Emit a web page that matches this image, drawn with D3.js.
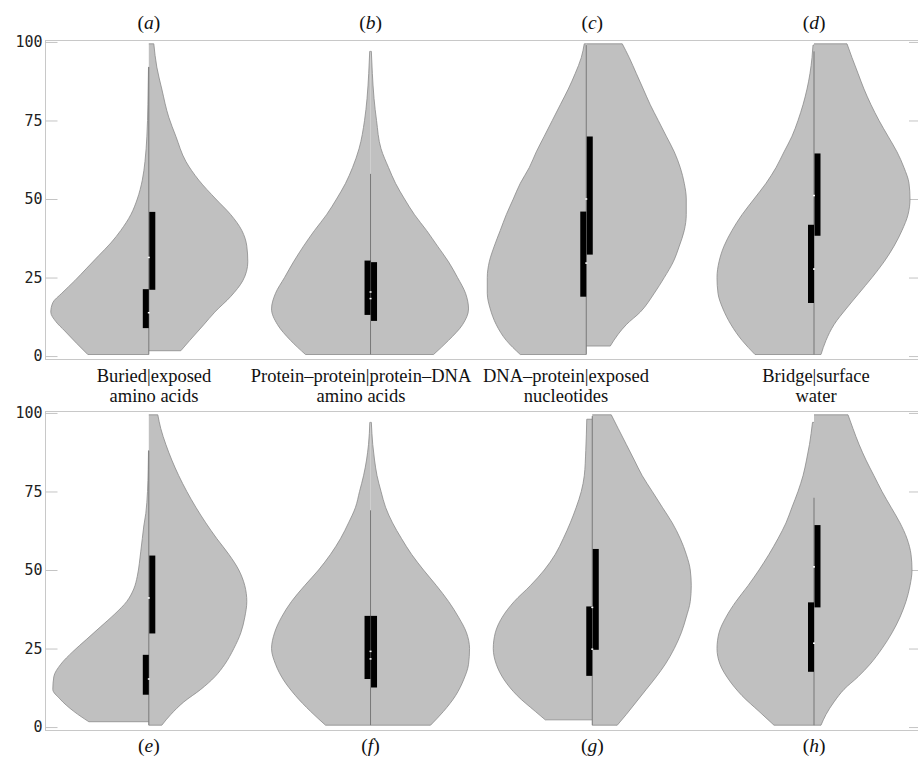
<!DOCTYPE html>
<html>
<head>
<meta charset="utf-8">
<script src="https://cdn.jsdelivr.net/npm/d3@7"></script>
<style>
  body { margin: 0; background: #fff; }
  svg { display: block; }
  .tick text { font-family: 'DejaVu Sans Mono', monospace; font-size: 15px; fill: #222; }
  .tick line { stroke: #c4c4c4; }
  .lbl { font-family: 'Liberation Serif', 'DejaVu Serif', serif; font-size: 18.5px; fill: #111; }
  .letter { font-family: 'Liberation Serif', 'DejaVu Serif', serif; font-size: 19.5px; fill: #111; }
</style>
</head>
<body>
<div id="chart"></div>
<script>
// panel letters, top row then bottom row
const panelNames = ['a', 'b', 'c', 'd', 'e', 'f', 'g', 'h'];
const categoryLine1 = ['Buried|exposed', 'Protein–protein|protein–DNA', 'DNA–protein|exposed', 'Bridge|surface'];
const categoryLine2 = ['amino acids', 'amino acids', 'nucleotides', 'water'];
const yTicks = [0, 25, 50, 75, 100];

// violin halves: [value, relative density]
const aLeft = [[0.5, 61], [4, 72], [8, 84], [11, 93], [14, 98], [17, 96], [20, 87], [24, 74], [28, 62], [32, 50], [36, 38], [40, 28], [45, 18], [50, 11.5], [56, 6.5], [62, 3.8], [70, 1.9], [80, 0.9], [92, 0.3]];
const aRight = [[1.7, 32], [5, 41], [10, 55], [14, 66], [19, 82], [24, 94], [30, 99], [35, 98], [40, 93], [45, 82], [50, 67], [56, 50], [62, 37], [70, 27], [76, 20], [85, 13], [92, 8], [99.4, 5]];
const bLeft = [[0.5, 65], [5, 80], [10, 93], [15, 99], [20, 95], [25, 86], [30, 77], [35, 67], [40, 56], [45, 44], [50, 34], [55, 25], [60, 18], [66, 11.5], [75, 6], [82, 3.5], [90, 1.8], [97, 0.8]];
const bRight = [[0.5, 63], [5, 78], [10, 92], [15, 98], [20, 95], [25, 87], [30, 78], [35, 67], [40, 56], [45, 44], [50, 34], [55, 25], [60, 18], [66, 10.5], [75, 6], [82, 3.5], [90, 1.8], [97, 0.8]];
const cLeft = [[0.5, 66], [5, 80], [10, 90], [15, 96], [20, 99], [25, 99], [30, 97], [35, 92], [40, 86], [45, 80], [50, 73], [55, 66], [60, 57], [65, 50], [70, 42], [75, 34], [80, 26], [85, 18], [90, 11], [95, 5], [99.4, 2]];
const cRight = [[3.2, 24], [7, 32], [10, 40], [14, 54], [20, 68], [25, 78], [30, 87], [35, 93], [40, 98], [45, 100], [50, 100], [55, 98], [60, 94], [65, 88], [70, 80], [75, 72], [80, 64], [85, 57], [90, 50], [95, 43], [99.4, 36]];
const dLeft = [[0.5, 59], [5, 72], [10, 83], [15, 91], [20, 96], [25, 97], [30, 95], [35, 90], [40, 82], [45, 72], [50, 60], [55, 48], [60, 38], [65, 30], [70, 22], [75, 16], [80, 11], [85, 7], [90, 4], [95, 2], [99, 1]];
const dRight = [[0.5, 7], [5, 12], [10, 20], [15, 32], [20, 45], [25, 58], [30, 70], [35, 80], [40, 88], [45, 94], [50, 96], [55, 95], [60, 90], [65, 83], [70, 74], [75, 65], [80, 57], [85, 50], [90, 44], [95, 38], [99.4, 33]];
const eLeft = [[1.7, 60], [5, 75], [9, 89], [12, 96], [16, 95], [20, 88], [24, 76], [28, 62], [32, 48], [36, 34], [40, 22], [44, 15], [48, 11.5], [52, 9.5], [56, 8], [60, 6.5], [64, 5], [68, 3], [75, 1.3], [82, 0.6], [88, 0.3]];
const eRight = [[0.6, 13], [4, 22], [8, 35], [12, 52], [16, 66], [20, 76], [25, 85], [30, 92], [35, 96], [40, 98], [45, 96], [50, 90], [55, 80], [60, 68], [65, 57], [70, 47], [75, 38], [80, 30], [85, 23], [90, 17], [95, 12], [99.4, 9]];
const fLeft = [[0.6, 45], [5, 60], [10, 75], [15, 87], [20, 95], [25, 99], [30, 96], [35, 89], [40, 79], [45, 66], [50, 52], [55, 40], [60, 30], [65, 22], [70, 15], [75, 11], [80, 7], [85, 4], [90, 2], [97, 0.7]];
const fRight = [[0.6, 60], [5, 73], [10, 85], [15, 93], [20, 98], [25, 99], [30, 96], [35, 88], [40, 78], [45, 66], [50, 53], [55, 41], [60, 31], [65, 22], [70, 15], [75, 10.5], [80, 6.5], [85, 4], [90, 2.2], [97, 0.8]];
const gLeft = [[2.3, 47], [5, 57], [10, 75], [15, 88], [20, 96], [25, 99], [30, 97], [35, 90], [40, 78], [45, 62], [50, 48], [55, 37], [60, 29], [65, 22], [70, 16], [75, 11], [80, 8], [88, 6.5], [98, 5.5]];
const gRight = [[0.6, 25], [4, 34], [8, 44], [12, 54], [16, 64], [20, 73], [25, 82], [30, 89], [35, 94], [40, 98], [45, 99], [50, 98], [55, 94], [60, 88], [65, 80], [70, 70], [75, 60], [80, 50], [85, 42], [90, 34], [95, 26], [99.4, 19]];
const hLeft = [[0.6, 40], [5, 55], [10, 72], [15, 85], [20, 94], [25, 97], [30, 95], [35, 88], [40, 78], [45, 66], [50, 55], [55, 45], [60, 36], [65, 28], [70, 22], [75, 16], [80, 11], [85, 7.5], [90, 4.5], [97, 1.5]];
const hRight = [[0.6, 7], [4, 12], [8, 20], [12, 30], [16, 44], [20, 56], [25, 68], [30, 78], [35, 86], [40, 92], [45, 96], [50, 98], [55, 97], [60, 93], [65, 86], [70, 77], [75, 68], [80, 60], [85, 52], [90, 45], [95, 39], [99.4, 34]];

// box statistics per panel (a..h)
const leftQ1 = [8.9, 13.1, 18.9, 16.9, 10.3, 15.3, 16.3, 17.6];
const leftMedian = [13.8, 20.4, 29.6, 27.7, 15.3, 24.1, 24.8, 26.7];
const leftQ3 = [21.3, 30.4, 46, 41.8, 23, 35.4, 38.4, 39.7];
const rightQ1 = [21.1, 11.2, 32.3, 38.3, 29.8, 12.6, 24.6, 38.1];
const rightMedian = [31.4, 18.3, 50, 51.1, 41.1, 21.7, 38.1, 51];
const rightQ3 = [45.9, 29.9, 69.9, 64.5, 54.6, 35.4, 56.7, 64.3];
const whiskerLow = [0.5, 0.5, 0.5, 0.5, 0.6, 0.6, 0.6, 0.6];
const whiskerHigh = [92, 58, 99, 97, 88, 69, 99, 73];

const leftHalves = [aLeft, bLeft, cLeft, dLeft, eLeft, fLeft, gLeft, hLeft];
const rightHalves = [aRight, bRight, cRight, dRight, eRight, fRight, gRight, hRight];

const width = 918, height = 759;
const rows = [{ top: 41, bottom: 360 }, { top: 412, bottom: 731 }];
const frameLeft = 45.5, frameRight = 921;
const nudge = [0, 0, -6, 0, 0, 0, 0, 0];
const labelX = [154, 361, 566, 816];

const svg = d3.select('#chart').append('svg')
	.attr('width', width)
	.attr('height', height);

const x = d3.scalePoint().domain([0, 1, 2, 3]).range([148.8, 814]);
const w = d3.scaleLinear().domain([0, 100]).range([0, 100]);
const ys = rows.map(r => d3.scaleLinear().domain([-1.25, 100.3]).range([r.bottom, r.top]));

// frames and axes
rows.forEach((r, i) => {
	svg.append('rect')
		.attr('x', frameLeft)
		.attr('y', r.top - 0.5)
		.attr('width', frameRight - frameLeft)
		.attr('height', r.bottom - r.top)
		.attr('fill', 'none')
		.attr('stroke', '#c8c8c8');
	const la = svg.append('g')
		.attr('transform', 'translate(' + frameLeft + ',0)')
		.call(d3.axisLeft(ys[i]).tickValues(yTicks).tickSizeInner(-12).tickSizeOuter(0).tickPadding(3));
	la.select('.domain').remove();
	const ra = svg.append('g')
		.attr('transform', 'translate(' + frameRight + ',0)')
		.call(d3.axisRight(ys[i]).tickValues(yTicks).tickSizeInner(-12).tickSizeOuter(0).tickFormat(''));
	ra.select('.domain').remove();
});

function drawHalf(g, pts, cx, y, side) {
	const area = d3.area()
		.curve(d3.curveMonotoneY)
		.y(d => y(d[0]))
		.x0(cx)
		.x1(d => cx + side * w(d[1]));
	g.append('path')
		.datum(pts)
		.attr('d', area)
		.attr('fill', '#c0c0c0');
	const edge = d3.line()
		.curve(d3.curveMonotoneY)
		.x(d => cx + side * w(d[1]))
		.y(d => y(d[0]));
	g.append('path')
		.datum(pts)
		.attr('d', edge)
		.attr('fill', 'none')
		.attr('stroke', '#8a8a8a')
		.attr('stroke-width', 0.8);
	// flat caps
	[pts[0], pts[pts.length - 1]].forEach(p => {
		g.append('line')
			.attr('x1', cx)
			.attr('x2', cx + side * w(p[1]))
			.attr('y1', y(p[0]))
			.attr('y2', y(p[0]))
			.attr('stroke', '#8a8a8a')
			.attr('stroke-width', 0.8);
	});
}

panelNames.forEach((name, i) => {
	const row = i < 4 ? 0 : 1;
	const col = i % 4;
	const y = ys[row];
	const cx = x(col) + nudge[i];
	const g = svg.append('g').attr('class', 'violin-' + name);

	drawHalf(g, leftHalves[i], cx, y, -1);
	drawHalf(g, rightHalves[i], cx, y, 1);

	// whisker line
	g.append('line')
		.attr('x1', cx).attr('x2', cx)
		.attr('y1', y(whiskerLow[i]))
		.attr('y2', y(whiskerHigh[i]))
		.attr('stroke', '#777')
		.attr('stroke-width', 1);

	// boxes
	g.append('rect')
		.attr('x', cx - 6)
		.attr('y', y(leftQ3[i]))
		.attr('width', 6)
		.attr('height', y(leftQ1[i]) - y(leftQ3[i]))
		.attr('fill', '#000');
	g.append('rect')
		.attr('x', cx + 0.5)
		.attr('y', y(rightQ3[i]))
		.attr('width', 6)
		.attr('height', y(rightQ1[i]) - y(rightQ3[i]))
		.attr('fill', '#000');

	// medians
	[leftMedian[i], rightMedian[i]].forEach(m => {
		g.append('rect')
			.attr('x', cx - 1)
			.attr('y', y(m) - 0.75)
			.attr('width', 2)
			.attr('height', 1.5)
			.attr('fill', '#fff');
	});

	// panel letter
	const t = svg.append('text')
		.attr('class', 'letter')
		.attr('x', x(col))
		.attr('y', row === 0 ? 29 : 752)
		.attr('text-anchor', 'middle');
	t.append('tspan').text('(');
	t.append('tspan').attr('font-style', 'italic').text(name);
	t.append('tspan').text(')');
});

// category labels between rows
categoryLine1.forEach((s, i) => {
	svg.append('text')
		.attr('class', 'lbl')
		.attr('x', labelX[i])
		.attr('y', 382)
		.attr('text-anchor', 'middle')
		.text(s);
	svg.append('text')
		.attr('class', 'lbl')
		.attr('x', labelX[i])
		.attr('y', 402)
		.attr('text-anchor', 'middle')
		.text(categoryLine2[i]);
});
</script>
</body>
</html>
